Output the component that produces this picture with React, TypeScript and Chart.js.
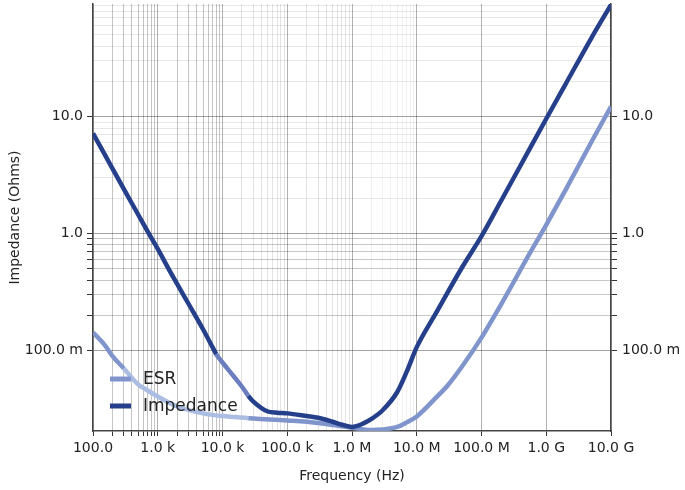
import { useEffect, useRef } from "react";
import { Chart, registerables } from "chart.js";

Chart.register(...registerables);

// ---- Data ----
const impedanceFreq = [
  100, 150, 200, 300, 500, 700, 1000, 1500, 2000, 3000, 5000, 7000, 8000, 10000,
  15000, 20000, 25000, 30000, 50000, 70000, 100000, 200000, 300000, 500000, 700000,
  1e6, 1.5e6, 2e6, 3e6, 5e6, 7e6, 1e7, 2e7, 5e7, 1e8, 2e8, 5e8, 1e9, 2e9, 5e9, 1e10,
];
const impedanceValues = [
  7.2, 4.8, 3.6, 2.4, 1.45, 1.04, 0.74, 0.49, 0.37, 0.25, 0.152, 0.107, 0.093, 0.079,
  0.06, 0.049, 0.041, 0.0366, 0.0301, 0.0294, 0.029, 0.0275, 0.0266, 0.0246, 0.0232,
  0.0222, 0.0238, 0.026, 0.031, 0.0442, 0.066, 0.107, 0.211, 0.513, 0.95, 1.9, 4.78,
  9.6, 19.1, 47.3, 90.6,
];

const esrFreq = [
  100, 150, 200, 300, 500, 700, 1000, 2000, 5000, 10000, 25000, 30000, 100000, 300000,
  1e6, 2e6, 3e6, 5e6, 7e6, 1e7, 2e7, 3e7, 5e7, 1e8, 2e8, 5e8, 1e9, 2e9, 5e9, 1e10,
];
const esrValues = [
  0.1425, 0.1125, 0.0897, 0.0702, 0.0512, 0.0455, 0.0404, 0.0332, 0.029, 0.0275, 0.0264,
  0.0262, 0.0252, 0.024, 0.0218, 0.0209, 0.0211, 0.0222, 0.0243, 0.0273, 0.0397, 0.0502,
  0.073, 0.129, 0.247, 0.611, 1.19, 2.38, 6.11, 12.2,
];

const xTickValues = [100, 1e3, 1e4, 1e5, 1e6, 1e7, 1e8, 1e9, 1e10];
const xTickLabels = ["100.0", "1.0 k", "10.0 k", "100.0 k", "1.0 M", "10.0 M", "100.0 M", "1.0 G", "10.0 G"];
const yTickValues = [0.1, 1, 10];
const yTickLabels = ["100.0 m", "1.0", "10.0"];

const X_MIN = 100;
const X_MAX = 1e10;
const Y_MIN = 0.0205;
const Y_MAX = 92;

const FONT = "'DejaVu Sans', sans-serif";
const TEXT = "#222";

const IMP_DARK = "#253f8a";
const IMP_LIGHT = "#6a7ebf";
const ESR_MED = "#8095cc";
const ESR_LIGHT = "#abbde3";

function clean(v: number) {
  return Number(v.toPrecision(6));
}
function isMajor(v: number) {
  const l = Math.log10(v);
  return Math.abs(l - Math.round(l)) < 1e-6;
}
function findLabel(vals: number[], labels: string[], v: number) {
  const i = vals.findIndex((t) => Math.abs(t - v) / t < 1e-6);
  return i >= 0 ? labels[i] : "";
}

// x ticks: minors up to 10 M, majors everywhere
function buildXTicks() {
  const out: number[] = [];
  for (let d = 100; d < X_MAX; d *= 10) {
    out.push(clean(d));
    if (d < 1e7) for (let m = 2; m < 10; m++) out.push(clean(d * m));
  }
  out.push(X_MAX);
  return out;
}
function buildYTicks() {
  const out: number[] = [];
  for (let d = 0.1; d < 100; d *= 10) {
    for (let m = 1; m < 10; m++) {
      const v = clean(d * m);
      if (v <= Y_MAX) out.push(v);
    }
  }
  return out;
}

function xGridColor(v: number) {
  if (isMajor(v)) return "rgba(0,0,0,0.30)";
  if (v < 1e4) return "rgba(0,0,0,0.23)";
  if (v < 1e6) return "rgba(0,0,0,0.11)";
  return "rgba(0,0,0,0.055)";
}
function xTickColor(v: number) {
  if (isMajor(v) || v < 1e4) return "#333";
  return "rgba(0,0,0,0)";
}
function yGridColor(v: number) {
  if (isMajor(v)) return "rgba(0,0,0,0.36)";
  if (v < 1) return "rgba(0,0,0,0.22)";
  return "rgba(0,0,0,0.09)";
}
function yTickColor(v: number) {
  if (isMajor(v) || v < 1) return "#333";
  return "rgba(0,0,0,0)";
}

const legendPlugin = {
  id: "innerLegend",
  afterDraw(chart: any) {
    const ctx = chart.ctx;
    const items = [
      { label: chart.data.datasets[1].label, color: ESR_MED },
      { label: chart.data.datasets[0].label, color: IMP_DARK },
    ];
    ctx.save();
    ctx.font = `17px ${FONT}`;
    ctx.textBaseline = "middle";
    ctx.fillStyle = TEXT;
    items.forEach((it, i) => {
      const y = 379 + i * 27;
      ctx.strokeStyle = it.color;
      ctx.lineWidth = 5;
      ctx.beginPath();
      ctx.moveTo(110, y);
      ctx.lineTo(131, y);
      ctx.stroke();
      ctx.fillText(it.label, 143, y + 1);
    });
    ctx.restore();
  },
};

export default function App() {
  const ref = useRef<HTMLCanvasElement | null>(null);

  useEffect(() => {
    document.body.style.margin = "0";
    if (!ref.current) return;
    const xTicks = buildXTicks();
    const yTicks = buildYTicks();

    const chart = new Chart(ref.current, {
      type: "line",
      data: {
        datasets: [
          {
            label: "Impedance",
            data: impedanceFreq.map((f, i) => ({ x: f, y: impedanceValues[i] })),
            borderColor: IMP_DARK,
            borderWidth: 4.5,
            pointRadius: 0,
            cubicInterpolationMode: "monotone",
            borderJoinStyle: "round",
            order: 0,
            segment: {
              borderColor: (c: any) =>
                c.p0.parsed.x >= 8000 - 1 && c.p1.parsed.x <= 25000 + 1 ? IMP_LIGHT : IMP_DARK,
            },
          },
          {
            label: "ESR",
            data: esrFreq.map((f, i) => ({ x: f, y: esrValues[i] })),
            borderColor: ESR_MED,
            borderWidth: 4.5,
            pointRadius: 0,
            cubicInterpolationMode: "monotone",
            borderJoinStyle: "round",
            order: 1,
            segment: {
              borderColor: (c: any) =>
                c.p0.parsed.x >= 300 - 1 && c.p1.parsed.x <= 25000 + 1 ? ESR_LIGHT : ESR_MED,
            },
          },
        ],
      },
      options: {
        animation: false,
        responsive: true,
        maintainAspectRatio: false,
        layout: { padding: { top: 4, left: 0, right: 0, bottom: 0 } },
        plugins: { legend: { display: false }, tooltip: { enabled: false } },
        scales: {
          x: {
            type: "logarithmic",
            position: "bottom",
            min: X_MIN,
            max: X_MAX,
            afterBuildTicks: (s: any) => {
              s.ticks = xTicks.map((v) => ({ value: v }));
            },
            afterFit: (s: any) => {
              s.height = 59;
              s.paddingLeft = 0;
              s.paddingRight = 0;
            },
            ticks: {
              autoSkip: false,
              maxRotation: 0,
              padding: 4,
              color: TEXT,
              font: { family: FONT, size: 14 },
              callback: (v: any) => findLabel(xTickValues, xTickLabels, Number(v)),
            },
            grid: {
              color: (c: any) => xGridColor(c.tick.value),
              tickColor: (c: any) => xTickColor(c.tick.value),
              tickLength: 5,
              lineWidth: 1,
            },
            border: { display: true, color: "#444", width: 1.5 },
            title: {
              display: true,
              text: "Frequency (Hz)",
              color: TEXT,
              font: { family: FONT, size: 14 },
              padding: { top: 0, bottom: 5 },
            },
          },
          y: {
            type: "logarithmic",
            position: "left",
            min: Y_MIN,
            max: Y_MAX,
            afterBuildTicks: (s: any) => {
              s.ticks = yTicks.map((v) => ({ value: v }));
            },
            afterFit: (s: any) => {
              s.width = 93;
              s.paddingTop = 0;
              s.paddingBottom = 0;
            },
            ticks: {
              autoSkip: false,
              padding: 4,
              color: TEXT,
              font: { family: FONT, size: 14 },
              callback: (v: any) => findLabel(yTickValues, yTickLabels, Number(v)),
            },
            grid: {
              color: (c: any) => yGridColor(c.tick.value),
              tickColor: (c: any) => yTickColor(c.tick.value),
              tickLength: 6,
              lineWidth: 1,
            },
            border: { display: true, color: "#444", width: 1.5 },
            title: {
              display: true,
              text: "Impedance (Ohms)",
              color: TEXT,
              font: { family: FONT, size: 14 },
              padding: { top: 7, bottom: 0 },
            },
          },
          y2: {
            type: "logarithmic",
            position: "right",
            min: Y_MIN,
            max: Y_MAX,
            afterBuildTicks: (s: any) => {
              s.ticks = yTicks.map((v) => ({ value: v }));
            },
            afterFit: (s: any) => {
              s.width = 74;
              s.paddingTop = 0;
              s.paddingBottom = 0;
            },
            ticks: {
              autoSkip: false,
              padding: 5,
              color: TEXT,
              font: { family: FONT, size: 14 },
              callback: (v: any) => findLabel(yTickValues, yTickLabels, Number(v)),
            },
            grid: {
              drawOnChartArea: false,
              tickColor: (c: any) => yTickColor(c.tick.value),
              tickLength: 6,
            },
            border: { display: true, color: "#444", width: 1.5 },
          },
        },
      } as any,
      plugins: [legendPlugin],
    });
    return () => chart.destroy();
  }, []);

  return (
    <div style={{ width: 685, height: 490, position: "relative" }}>
      <canvas ref={ref} />
    </div>
  );
}
